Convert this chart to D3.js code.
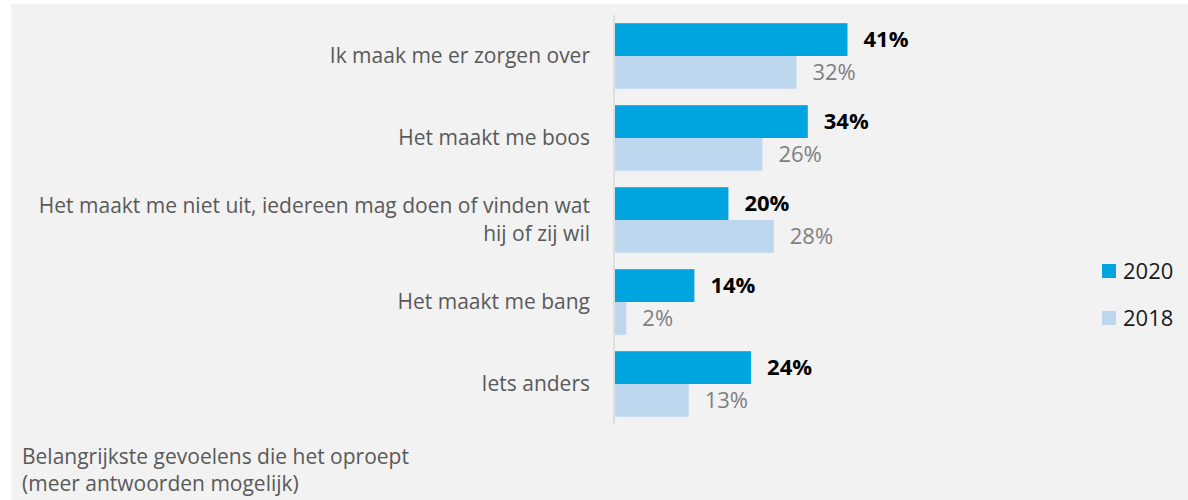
<!DOCTYPE html>
<html>
<head>
<meta charset="utf-8">
<script src="https://cdn.jsdelivr.net/npm/d3@7"></script>
<style>
  html, body { margin: 0; padding: 0; background: #ffffff; }
  svg { display: block; }
  text { font-family: "Open Sans", sans-serif; }
</style>
</head>
<body>
<svg id="chart" width="1188" height="500"></svg>
<script>
const categories = [
  ["Ik maak me er zorgen over"],
  ["Het maakt me boos"],
  ["Het maakt me niet uit, iedereen mag doen of vinden wat", "hij of zij wil"],
  ["Het maakt me bang"],
  ["Iets anders"]
];
const categoryKeys = ["zorgen", "boos", "nietuit", "bang", "anders"];
const values2020 = [41, 34, 20, 14, 24];
const values2018 = [32, 26, 28, 2, 13];
const seriesNames = ["2020", "2018"];
const footnote = ["Belangrijkste gevoelens die het oproept", "(meer antwoorden mogelijk)"];

const colors = { "2020": "#00a4de", "2018": "#bdd7ee" };

const svg = d3.select("#chart");
// background panel
svg.append("rect").attr("x", 11).attr("y", 4).attr("width", 1188 - 11).attr("height", 500 - 4).attr("fill", "#f2f2f2");

const x = d3.scaleLinear().domain([0, 50]).range([615, 615 + 50 * 5.67]);
const y = d3.scaleBand().domain(categoryKeys).range([15, 425]).paddingInner(0.2).paddingOuter(0.1);
const ySub = d3.scaleBand().domain(seriesNames).range([0, y.bandwidth()]);

const data = categoryKeys.map((k, i) => ({ key: k, label: categories[i], "2020": values2020[i], "2018": values2018[i] }));

// bars
const groups = svg.append("g").selectAll("g").data(data).join("g")
  .attr("transform", d => `translate(0,${y(d.key)})`);

groups.selectAll("rect").data(d => seriesNames.map(s => ({ s, v: d[s] }))).join("rect")
  .attr("x", x(0))
  .attr("y", d => ySub(d.s))
  .attr("width", d => x(d.v) - x(0))
  .attr("height", ySub.bandwidth())
  .attr("fill", d => colors[d.s]);

// value labels
groups.selectAll("text.val").data(d => seriesNames.map(s => ({ s, v: d[s] }))).join("text")
  .attr("class", "val")
  .attr("x", d => x(d.v) + 16)
  .attr("y", d => ySub(d.s) + ySub.bandwidth() / 2)
  .attr("dy", "0.35em")
  .attr("font-size", 22)
  .attr("font-weight", d => d.s === "2020" ? "bold" : "normal")
  .attr("fill", d => d.s === "2020" ? "#000000" : "#808080")
  .text(d => d.v + "%");

// axis line
const yAxis = d3.axisLeft(y).tickSize(0).tickFormat("");
const axisG = svg.append("g").attr("transform", `translate(${x(0) - 1},0)`).call(yAxis);
axisG.select(".domain").attr("stroke", "#d9d9d9").attr("stroke-width", 1.5)
  .attr("d", `M0,15V424`);

// category labels
const lineH = 28;
svg.append("g").selectAll("text").data(data).join("text")
  .attr("x", 590)
  .attr("y", d => y(d.key) + y.bandwidth() / 2 - (d.label.length - 1) * lineH / 2)
  .attr("text-anchor", "end")
  .attr("font-size", 21)
  .attr("fill", "#595959")
  .each(function(d) {
    const t = d3.select(this);
    d.label.forEach((line, j) => {
      t.append("tspan").attr("x", 590).attr("dy", j === 0 ? "0.35em" : lineH).text(line);
    });
  });

// legend
const legend = svg.append("g").selectAll("g").data(seriesNames).join("g")
  .attr("transform", (d, i) => `translate(1102,${271 + i * 47})`);
legend.append("rect").attr("x", 0).attr("y", -7).attr("width", 14).attr("height", 14).attr("fill", d => colors[d]);
legend.append("text").attr("x", 21).attr("y", 0).attr("dy", "0.35em").attr("font-size", 22).attr("fill", "#1a1a1a").text(d => d);

// footnote
svg.append("g").selectAll("text").data(footnote).join("text")
  .attr("x", 22)
  .attr("y", (d, i) => 457 + i * 27)
  .attr("dy", "0.35em")
  .attr("font-size", 21)
  .attr("fill", "#595959")
  .text(d => d);
</script>
</body>
</html>
